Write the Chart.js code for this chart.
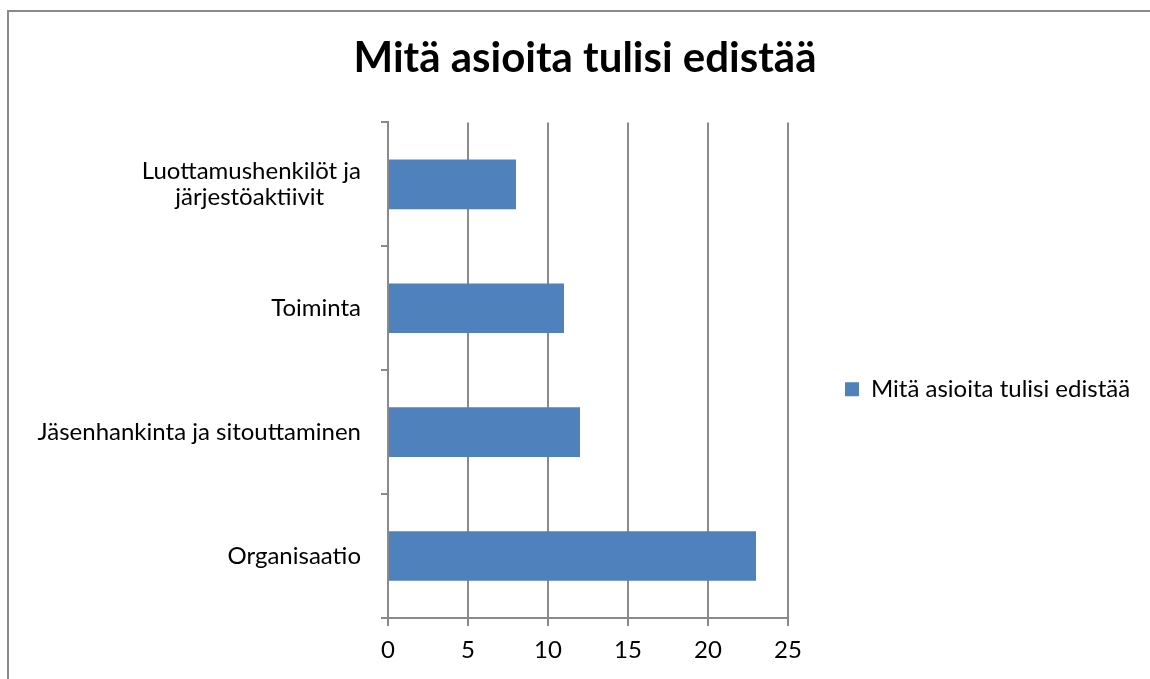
<!DOCTYPE html>
<html>
<head>
<meta charset="utf-8">
<script src="https://cdn.jsdelivr.net/npm/chart.js@4"></script>
<style>
  html, body { margin: 0; padding: 0; width: 1150px; height: 679px; overflow: hidden; background: #fff; }
  #frame { position: absolute; left: 7px; top: 10px; width: 1300px; height: 800px; border-left: 2px solid #8a8a8a; border-top: 2px solid #8a8a8a; }
  #wrap { position: absolute; left: 0; top: 0; width: 1150px; height: 679px; }
</style>
</head>
<body>
<div id="frame"></div>
<div id="wrap"><canvas id="chart" width="1150" height="679"></canvas></div>
<script>
// Chart data
const chartTitle = 'Mitä asioita tulisi edistää';
const seriesName = 'Mitä asioita tulisi edistää';
const categories = [
  ['Luottamushenkilöt ja', 'järjestöaktiivit'],
  'Toiminta',
  'Jäsenhankinta ja sitouttaminen',
  'Organisaatio'
];
const values = [8, 11, 12, 23];
const xMin = 0;
const xMax = 25;
const xStep = 5;

const FONT = 'Lato';
const FS = 24;
const GRID = '#8a8a8a';
const PLOT_RIGHT = 788;
const LEGEND_W = 100;

const mc = document.createElement('canvas').getContext('2d');

// centre the lines of a wrapped label (Chart.js only right-aligns them)
const centerLines = (lines) => {
  mc.font = FS + 'px "' + FONT + '"';
  const widths = lines.map(l => mc.measureText(l).width);
  const maxW = Math.max(...widths);
  const sp = mc.measureText(' ').width;
  return lines.map((l, i) => l + ' '.repeat(Math.round((maxW - widths[i]) / 2 / sp)));
};

// put legend and title where the original has them
const placeBoxes = {
  id: 'placeBoxes',
  afterLayout(chart) {
    const lg = chart.legend;
    if (lg) {
      lg.left = chart.chartArea.right + 47;
      lg.right = 1150;
      lg.width = lg.right - lg.left;
      lg.top += 19;
      lg.bottom += 19;
    }
    const tb = chart.titleBlock;
    if (tb) {
      tb.left = 0;
      tb.right = 1170;
      tb.width = 1170;
    }
  }
};

const ctx = document.getElementById('chart').getContext('2d');
new Chart(ctx, {
  type: 'bar',
  data: {
    labels: categories,
    datasets: [{
      label: seriesName,
      data: values,
      backgroundColor: '#4f81bd',
      borderWidth: 0,
      barPercentage: 0.4,
      categoryPercentage: 1.0
    }]
  },
  options: {
    indexAxis: 'y',
    responsive: false,
    animation: false,
    layout: { padding: { left: 0, right: 1150 - PLOT_RIGHT - LEGEND_W, top: 0, bottom: 0 } },
    plugins: {
      title: {
        display: true,
        text: chartTitle,
        color: '#000',
        font: { family: FONT, size: 42, weight: 'bold', lineHeight: 1.2 },
        padding: { top: 33, bottom: 39 }
      },
      legend: {
        position: 'right',
        fullSize: false,
        maxWidth: LEGEND_W,
        labels: {
          boxWidth: 14,
          boxHeight: 14,
          padding: 10,
          color: '#000',
          font: { family: FONT, size: FS }
        }
      },
      tooltip: { enabled: false }
    },
    scales: {
      x: {
        min: xMin,
        max: xMax,
        ticks: { stepSize: xStep, color: '#000', padding: 10, font: { family: FONT, size: FS } },
        grid: { color: GRID, lineWidth: 2, tickLength: 8 },
        border: { color: GRID, width: 2 },
        afterFit: (s) => { s.height = 61; }
      },
      y: {
        ticks: {
          color: '#000',
          padding: 20,
          font: { family: FONT, size: FS, lineHeight: 1.1 },
          callback: function (v) {
            const l = this.getLabelForValue(v);
            return Array.isArray(l) ? centerLines(l) : l;
          }
        },
        grid: { color: GRID, lineWidth: 2, tickLength: 7, drawOnChartArea: false, offset: true },
        border: { color: GRID, width: 2 },
        afterFit: (s) => { s.width = 388; }
      }
    }
  },
  plugins: [placeBoxes]
});
</script>
</body>
</html>
